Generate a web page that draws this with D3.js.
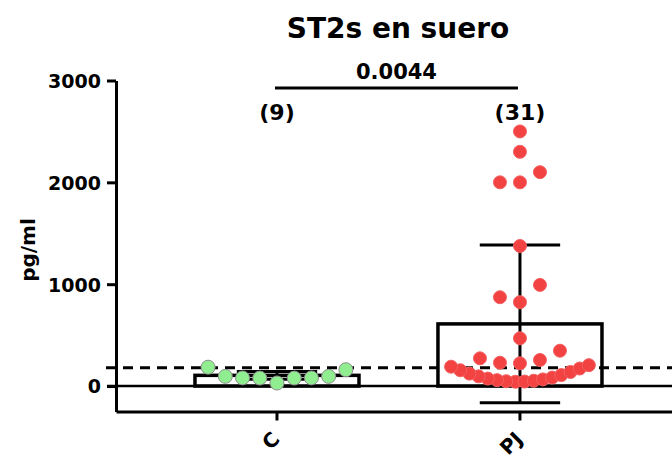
<!DOCTYPE html>
<html><head><meta charset="utf-8">
<script src="https://cdn.jsdelivr.net/npm/d3@7"></script>
<style>
body{margin:0;background:#fff}
svg text{font-family:"DejaVu Sans",sans-serif;font-weight:bold;fill:#000}
</style>
</head><body>
<svg id="chart" width="672" height="459"></svg>
<script>
// ---- data ----
const title = "ST2s en suero";
const yLabel = "pg/ml";
const categories = ["C", "PJ"];
const groupCounts = ["(9)", "(31)"];
const barMeans = [105, 610];
const barSDs = [38, 775];
const valuesC = [185, 95, 80, 78, 30, 80, 78, 95, 160];
const valuesPJ = [42, 44, 47, 52, 58, 65, 73, 83, 95, 108, 122, 138, 155, 172, 190, 205,
                  223, 229, 256, 272, 347, 469, 823, 872, 993, 1375, 2000, 2000, 2100, 2300, 2500];
const yTicks = [0, 1000, 2000, 3000];
const yDomain = [-250, 3000];
const referenceValue = 180;
const pValue = "0.0044";

// ---- layout ----
const svg = d3.select("#chart");
const W = 672, H = 459;
const axisX = 116, axisBottom = 411.5, axisTop = 80.5;

const x = d3.scaleBand().domain(categories)
  .range([axisX, W]).paddingInner(0.325).paddingOuter(0.3066).align(0.53);
const y = d3.scaleLinear().domain(yDomain).range([axisBottom, axisTop]);

const groups = [
  {cat: "C", values: valuesC, mean: barMeans[0], sd: barSDs[0], count: groupCounts[0], fill: "#90ee90", stroke: "#8c8c8c", r: 7},
  {cat: "PJ", values: valuesPJ, mean: barMeans[1], sd: barSDs[1], count: groupCounts[1], fill: "#f24242", stroke: "#f46060", r: 6.5}
];

// bars
svg.append("g").selectAll("rect").data(groups).join("rect")
  .attr("x", d => x(d.cat)).attr("width", x.bandwidth())
  .attr("y", d => y(d.mean)).attr("height", d => y(0) - y(d.mean))
  .attr("fill", "#fff").attr("stroke", "#000").attr("stroke-width", 3.5);

// reference dashed line
svg.append("line")
  .attr("x1", axisX - 10).attr("x2", W)
  .attr("y1", y(referenceValue)).attr("y2", y(referenceValue))
  .attr("stroke", "#000").attr("stroke-width", 3).attr("stroke-dasharray", "10,7");

// zero line
svg.append("line")
  .attr("x1", axisX - 9).attr("x2", W)
  .attr("y1", y(0)).attr("y2", y(0))
  .attr("stroke", "#000").attr("stroke-width", 2.5);

// error bars
const capW = x.bandwidth() * 0.49;
const eb = svg.append("g").attr("stroke", "#000").attr("stroke-width", 3);
groups.forEach(g => {
  const cx = x(g.cat) + x.bandwidth() / 2;
  eb.append("line").attr("x1", cx).attr("x2", cx).attr("y1", y(g.mean + g.sd)).attr("y2", y(g.mean - g.sd));
  eb.append("line").attr("x1", cx - capW / 2).attr("x2", cx + capW / 2).attr("y1", y(g.mean + g.sd)).attr("y2", y(g.mean + g.sd));
  eb.append("line").attr("x1", cx - capW / 2).attr("x2", cx + capW / 2).attr("y1", y(g.mean - g.sd)).attr("y2", y(g.mean - g.sd));
});

// axes
const yAxis = d3.axisLeft(y).tickValues(yTicks).tickSize(9).tickSizeOuter(0).tickPadding(6).tickFormat(d3.format("d"));
const gy = svg.append("g").attr("transform", `translate(${axisX},0)`).call(yAxis)
  .attr("font-size", 19).attr("font-family", "DejaVu Sans");
gy.select(".domain").attr("stroke-width", 3);
gy.selectAll(".tick line").attr("stroke-width", 3);
gy.selectAll(".tick text").attr("font-size", 19).style("font-size", "19px").attr("dy", "0.36em");

const xAxis = d3.axisBottom(x).tickSize(9).tickSizeOuter(0);
const gx = svg.append("g").attr("transform", `translate(0,${axisBottom})`).call(xAxis)
  .attr("font-size", 20).attr("font-family", "DejaVu Sans");
gx.select(".domain").attr("stroke-width", 3);
gx.selectAll(".tick line").attr("stroke-width", 3);
gx.selectAll(".tick text").attr("font-size", 20).style("font-size", "20px")
  .attr("x", 0).attr("y", 0).attr("dy", "0.35em")
  .attr("text-anchor", "end")
  .attr("transform", "translate(-1,24) rotate(-45)");

// swarm layout of points (row binning)
function swarm(values, cx) {
  const sorted = values.map(v => ({v})).sort((a, b) => a.v - b.v);
  const rows = [];
  let cur = null;
  sorted.forEach(p => {
    if (!cur || y(cur[0].v) - y(p.v) > 17.5) { cur = []; rows.push(cur); }
    cur.push(p);
  });
  const maxW = x.bandwidth() * 0.84, sMax = 20;
  rows.forEach(row => {
    const n = row.length;
    const s = n > 1 ? Math.min(sMax, maxW / (n - 1)) : 0;
    const dir = n >= 9 ? 1 : -1;   // side taken first
    row.forEach((p, k) => {
      p.off = k === 0 ? 0 : (k % 2 === 1 ? dir * ((k + 1) / 2) * s : -dir * (k / 2) * s);
    });
    const mn = d3.min(row, p => p.off), mx = d3.max(row, p => p.off);
    const shift = -(mn + mx) / 2;
    row.forEach(p => { p.px = cx + p.off + shift; p.py = y(p.v); });
  });
  return sorted;
}

groups.forEach(g => {
  const cx = x(g.cat) + x.bandwidth() / 2;
  const pts = swarm(g.values, cx);
  svg.append("g").selectAll("circle").data(pts).join("circle")
    .attr("cx", d => d.px).attr("cy", d => d.py).attr("r", g.r)
    .attr("fill", g.fill).attr("stroke", g.stroke).attr("stroke-width", 1);
});

// counts
svg.append("g").selectAll("text").data(groups).join("text")
  .attr("x", d => x(d.cat) + x.bandwidth() / 2).attr("y", 120)
  .attr("text-anchor", "middle").attr("font-size", 22).style("font-size", "22px")
  .text(d => d.count);

// significance bracket
const x1 = x("C") + x.bandwidth() / 2 - 2, x2 = x("PJ") + x.bandwidth() / 2 - 2;
svg.append("line").attr("x1", x1).attr("x2", x2).attr("y1", 88).attr("y2", 88)
  .attr("stroke", "#000").attr("stroke-width", 3);
svg.append("text").attr("x", (x1 + x2) / 2).attr("y", 79)
  .attr("text-anchor", "middle").attr("font-size", 21).style("font-size", "21px").text(pValue);

// title
svg.append("text").attr("x", 398).attr("y", 38).attr("text-anchor", "middle")
  .attr("font-size", 28).style("font-size", "28px").text(title);

// y label
svg.append("text").attr("transform", "translate(35,250) rotate(-90)")
  .attr("text-anchor", "middle").attr("font-size", 20).style("font-size", "20px").text(yLabel);
</script>
</body></html>
